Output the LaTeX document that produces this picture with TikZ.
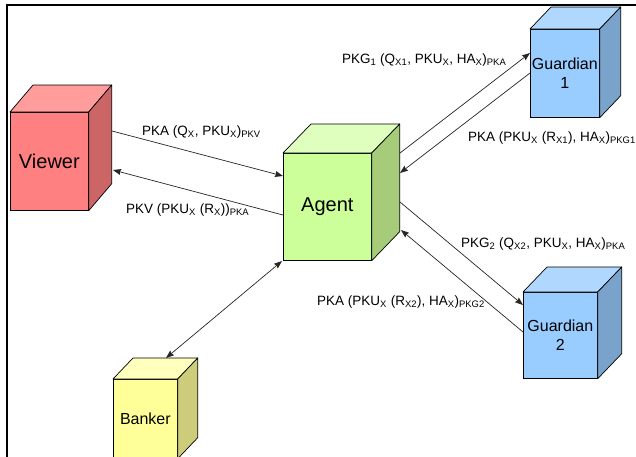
\documentclass[tikz,border=0pt]{standalone}
\usepackage{fontspec}
\setmainfont{Liberation Sans}
\usepackage{tikz}
\usetikzlibrary{arrows.meta,calc}

\definecolor{viewerF}{RGB}{255,128,128}
\definecolor{viewerT}{RGB}{255,156,156}
\definecolor{viewerS}{RGB}{204,102,102}
\definecolor{agentF}{RGB}{204,255,153}
\definecolor{agentT}{RGB}{222,255,190}
\definecolor{agentS}{RGB}{166,204,122}
\definecolor{guardF}{RGB}{153,204,255}
\definecolor{guardT}{RGB}{176,216,255}
\definecolor{guardS}{RGB}{122,163,204}
\definecolor{bankF}{RGB}{255,255,153}
\definecolor{bankT}{RGB}{255,255,190}
\definecolor{bankS}{RGB}{204,204,122}

\tikzset{
  face/.style={draw,line width=0.7pt,inner sep=0pt,anchor=north west,align=center},
  big/.style={font=\fontsize{20}{23}\selectfont},
  small/.style={font=\fontsize{16}{19}\selectfont},
  arr/.style={-{Stealth[length=8pt,width=6pt,inset=1pt]},line width=0.7pt,black!85},
  darr/.style={{Stealth[length=8pt,width=6pt,inset=1pt]}-{Stealth[length=8pt,width=6pt,inset=1pt]},
               line width=0.7pt,black!85},
  msg/.style={font=\fontsize{13.5}{15}\selectfont,inner sep=0pt,anchor=base west},
}

% top and right faces of a box: node, depth x, depth y, colour prefix
\newcommand{\boxfaces}[4]{%
  \filldraw[fill=#4T,line width=0.7pt,line join=round]
    (#1.north west) -- ++(#2,#3) -- ($(#1.north east)+(#2,#3)$) -- (#1.north east) -- cycle;
  \filldraw[fill=#4S,line width=0.7pt,line join=round]
    (#1.north east) -- ++(#2,#3) -- ($(#1.south east)+(#2,#3)$) -- (#1.south east) -- cycle;
}
\newcommand{\sub}[1]{\textsubscript{#1}}

\begin{document}
\begin{tikzpicture}[x=1pt,y=-1pt]
  \fill[white] (0,0) rectangle (636,456);
  \useasboundingbox (0,0) rectangle (636,456);

  %% ── Frame ────────────────────────────────────────────────────────────────
  \draw[line width=2pt] (7,460) -- (7,5) -- (640,5);

  %% ── Boxes ────────────────────────────────────────────────────────────────
  \node[face,big,fill=viewerF,minimum width=78pt,minimum height=98pt] (viewer) at (10,112) {Viewer};
  \boxfaces{viewer}{23}{-27}{viewer}
  \node[face,big,fill=agentF,minimum width=88pt,minimum height=107pt] (agent) at (283,153) {Agent};
  \boxfaces{agent}{28}{-29}{agent}
  \node[face,small,fill=guardF,minimum width=69pt,minimum height=88pt] (guard1) at (530,29) {Guardian\\1};
  \boxfaces{guard1}{21}{-22}{guard}
  \node[face,small,fill=guardF,minimum width=74pt,minimum height=86pt] (guard2) at (523,292) {Guardian\\2};
  \boxfaces{guard2}{24}{-25}{guard}
  \node[face,small,fill=bankF,minimum width=64pt,minimum height=79pt] (banker) at (113,379) {Banker};
  \boxfaces{banker}{20}{-21}{bank}

  %% ── Arrow ends ───────────────────────────────────────────────────────────
  \coordinate (vOut) at (112,131);  \coordinate (aInV) at (283,176);
  \coordinate (aOutV) at (283,215); \coordinate (vIn) at (113,170);
  \coordinate (aOutG1) at (400,153); \coordinate (g1In) at (530,53);
  \coordinate (g1Out) at (530,73);  \coordinate (aInG1) at (400,173);
  \coordinate (aOutG2) at (400,202); \coordinate (g2In) at (523,305);
  \coordinate (g2Out) at (523,332); \coordinate (aInG2) at (401,230);
  \coordinate (aB) at (282,261);    \coordinate (bA) at (166,358);

  %% ── Messages ─────────────────────────────────────────────────────────────
  \draw[arr] (vOut) -- (aInV);
  \draw[arr] (aOutV) -- (vIn);
  \draw[arr] (aOutG1) -- (g1In);
  \draw[arr] (g1Out) -- (aInG1);
  \draw[arr] (aOutG2) -- (g2In);
  \draw[arr] (g2Out) -- (aInG2);
  \draw[darr] (aB) -- (bA);

  \node[msg] (m1) at (142,135) {PKA (Q\sub{X}, PKU\sub{X})\sub{PKV}};
  \node[msg] (m2) at (126,213) {PKV (PKU\sub{X} (R\sub{X}))\sub{PKA}};
  \node[msg] (m3) at (342,63)  {PKG\sub{1} (Q\sub{X1}, PKU\sub{X}, HA\sub{X})\sub{PKA}};
  \node[msg] (m4) at (468,141) {PKA (PKU\sub{X} (R\sub{X1}), HA\sub{X})\sub{PKG1}};
  \node[msg] (m5) at (461,247) {PKG\sub{2} (Q\sub{X2}, PKU\sub{X}, HA\sub{X})\sub{PKA}};
  \node[msg] (m6) at (317,305) {PKA (PKU\sub{X} (R\sub{X2}), HA\sub{X})\sub{PKG2}};
\end{tikzpicture}
\end{document}
